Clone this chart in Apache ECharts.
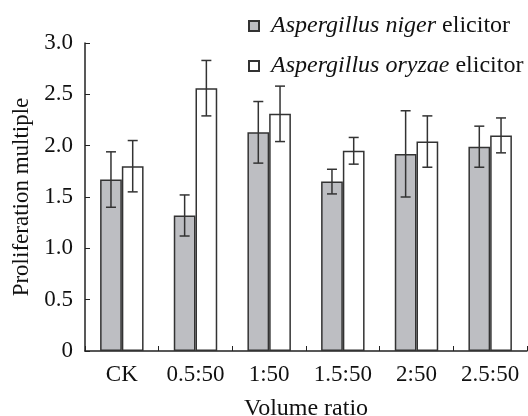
<!DOCTYPE html>
<html>
<head>
	<meta charset="utf-8">
	<title>Proliferation multiple</title>
	<style type="text/css">
		html, body { margin: 0; padding: 0; background: #fff; }
		#main { width: 528px; height: 416px; }
	</style>
</head>
<body>
<div id="main"></div>

<script src="https://cdn.jsdelivr.net/npm/echarts@6/dist/echarts.min.js"></script>
<script type="text/javascript">

	// 数据
	var categories = ['CK', '0.5:50', '1:50', '1.5:50', '2:50', '2.5:50'];
	var nigerValues = [1.67, 1.32, 2.13, 1.65, 1.92, 1.99];
	var nigerErrors = [0.27, 0.20, 0.30, 0.12, 0.42, 0.20];
	var oryzaeValues = [1.80, 2.56, 2.31, 1.95, 2.04, 2.10];
	var oryzaeErrors = [0.25, 0.27, 0.27, 0.13, 0.25, 0.17];
	var yTicks = [0, 0.5, 1.0, 1.5, 2.0, 2.5, 3.0];

	var FONT = '"Liberation Serif", "DejaVu Serif", serif';
	var GAP = 0.41; // barCategoryGap

	function errData(values, errors) {
		return values.map(function(v, i) {
			return [i, v, errors[i]];
		});
	}

	// 误差线, side = -1 左边柱, 1 右边柱
	function errRender(side) {
		return function(params, api) {
			var idx = api.value(0);
			var v = api.value(1);
			var e = api.value(2);
			var band = api.size([1, 0])[0];
			var barW = band * (1 - GAP) / 2;
			var x = api.coord([idx, v])[0] + side * barW / 2;
			var top = api.coord([idx, v + e])[1];
			var bot = api.coord([idx, v - e])[1];
			var cap = 5;
			var st = { stroke: '#333', lineWidth: 1.5 };
			return {
				type: 'group',
				children: [
					{ type: 'line', shape: { x1: x, y1: top, x2: x, y2: bot }, style: st },
					{ type: 'line', shape: { x1: x - cap, y1: top, x2: x + cap, y2: top }, style: st },
					{ type: 'line', shape: { x1: x - cap, y1: bot, x2: x + cap, y2: bot }, style: st }
				]
			};
		};
	}

	var myChart = echarts.init(document.getElementById('main'));
	var option = {
		animation: false,
		backgroundColor: '#fff',
		textStyle: { fontFamily: FONT },
		grid: { left: 85, right: 1, top: 43, bottom: 65, containLabel: false, outerBoundsMode: 'none' },
		legend: {
			orient: 'vertical',
			left: 243,
			top: 9,
			itemWidth: 10,
			itemHeight: 10,
			itemGap: 16,
			icon: 'rect',
			data: ['niger', 'oryzae'],
			formatter: function(name) {
				return name === 'niger'
					? '{i|Aspergillus niger} elicitor'
					: '{i|Aspergillus oryzae} elicitor';
			},
			textStyle: {
				fontFamily: FONT,
				fontSize: 24,
				color: '#111',
				padding: [0, 0, 0, 7],
				rich: {
					i: { fontFamily: FONT, fontSize: 24, fontStyle: 'italic', color: '#111' }
				}
			}
		},
		xAxis: {
			type: 'category',
			data: categories,
			name: 'Volume ratio',
			nameLocation: 'middle',
			nameGap: 46,
			nameTextStyle: { fontFamily: FONT, fontSize: 24, color: '#111' },
			axisLine: { lineStyle: { color: '#222', width: 1.5 } },
			axisTick: { show: true, inside: true, length: 5, alignWithLabel: false, lineStyle: { color: '#222' } },
			axisLabel: { fontFamily: FONT, fontSize: 23, color: '#111', margin: 12, interval: 0 }
		},
		yAxis: {
			type: 'value',
			min: 0,
			max: 3,
			interval: 0.5,
			name: 'Proliferation multiple',
			nameLocation: 'middle',
			nameGap: 52,
			nameTextStyle: { fontFamily: FONT, fontSize: 23, color: '#111' },
			axisLine: { show: true, lineStyle: { color: '#222', width: 1.5 } },
			axisTick: { show: true, inside: true, length: 5, lineStyle: { color: '#222' } },
			splitLine: { show: false },
			axisLabel: {
				fontFamily: FONT,
				fontSize: 23,
				color: '#111',
				margin: 12,
				formatter: function(v) {
					return yTicks.indexOf(v) === 0 ? '0' : v.toFixed(1);
				}
			}
		},
		series: [
			{
				name: 'niger',
				type: 'bar',
				data: nigerValues,
				barGap: '0%',
				barCategoryGap: (GAP * 100) + '%',
				itemStyle: { color: '#bdbec2', borderColor: '#333', borderWidth: 1.5 }
			},
			{
				name: 'oryzae',
				type: 'bar',
				data: oryzaeValues,
				itemStyle: { color: '#fff', borderColor: '#333', borderWidth: 1.5 }
			},
			{
				name: 'nigerErr',
				type: 'custom',
				renderItem: errRender(-1),
				data: errData(nigerValues, nigerErrors),
				encode: { x: 0, y: 1 },
				z: 5,
				silent: true
			},
			{
				name: 'oryzaeErr',
				type: 'custom',
				renderItem: errRender(1),
				data: errData(oryzaeValues, oryzaeErrors),
				encode: { x: 0, y: 1 },
				z: 5,
				silent: true
			}
		]
	};
	myChart.setOption(option);

	window.onresize = function() {
		myChart.resize();
	};

</script>
</body>
</html>
